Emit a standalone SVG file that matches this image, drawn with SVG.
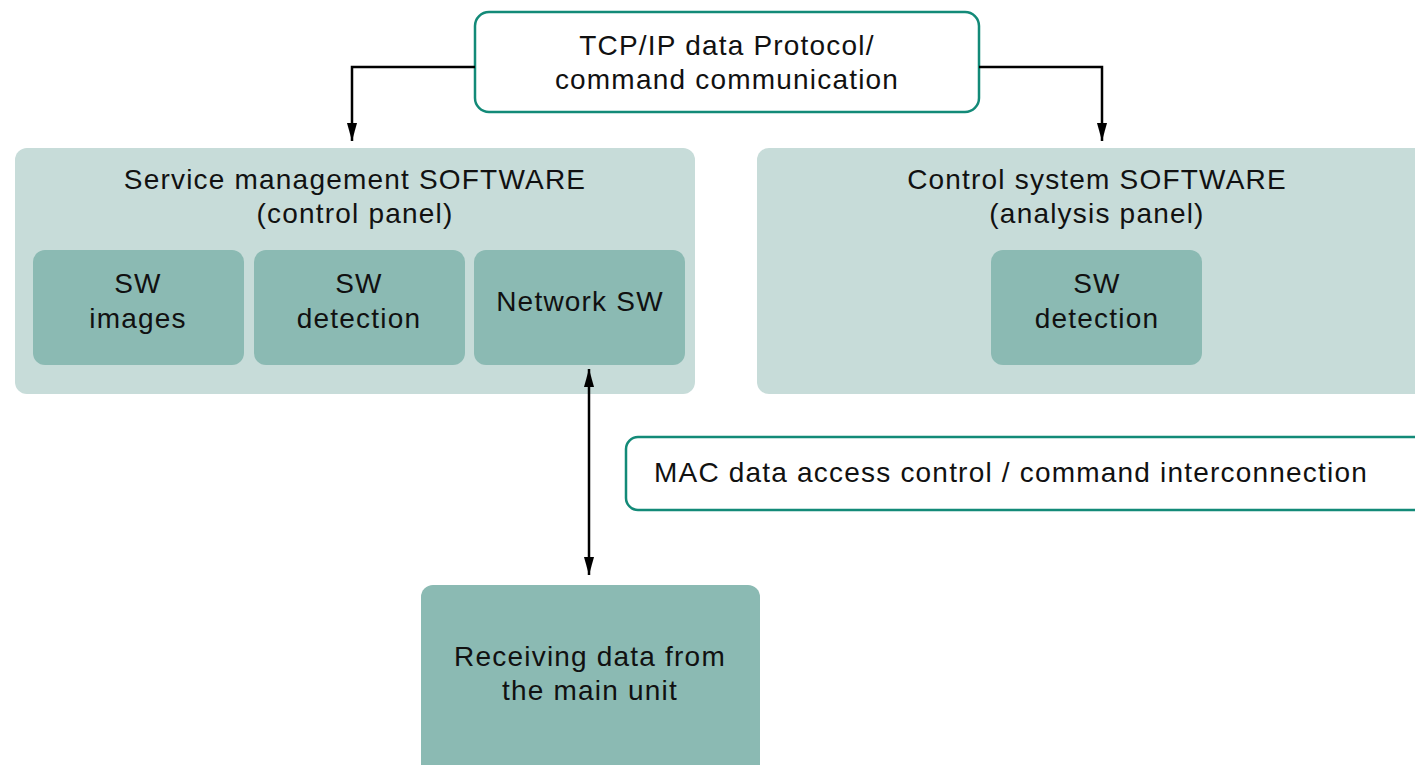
<svg xmlns="http://www.w3.org/2000/svg" width="1415" height="765" viewBox="0 0 1415 765">
<defs>
<marker id="ah" viewBox="0 0 18 10" refX="18" refY="5" markerWidth="18" markerHeight="10" markerUnits="userSpaceOnUse" orient="auto-start-reverse">
<path d="M0,0 L18,5 L0,10 z" fill="#000"/>
</marker>
<style>
text{font-family:"Liberation Sans",Arial,sans-serif;font-size:28px;letter-spacing:1.2px;fill:#111;text-anchor:middle}
.outline{fill:#fff;stroke:#138a78;stroke-width:2.5}
.panel{fill:#c7dcd9}
.sub{fill:#8bbab3}
.conn{fill:none;stroke:#000;stroke-width:2.5}
</style>
</defs>
<rect width="1415" height="765" fill="#fff"/>
<g id="tcp">
<rect class="outline" x="475" y="12" width="504" height="100" rx="14"/>
<text x="727" y="55">TCP/IP data Protocol/</text>
<text x="727" y="89">command communication</text>
</g>
<g id="service">
<rect class="panel" x="15" y="148" width="680" height="246" rx="12"/>
<text x="355" y="189">Service management SOFTWARE</text>
<text x="355" y="223">(control panel)</text>
</g>
<g id="sw-images">
<rect class="sub" x="33" y="250" width="211" height="115" rx="12"/>
<text x="138" y="293">SW</text>
<text x="138" y="328">images</text>
</g>
<g id="sw-detection-1">
<rect class="sub" x="254" y="250" width="211" height="115" rx="12"/>
<text x="359" y="293">SW</text>
<text x="359" y="328">detection</text>
</g>
<g id="network-sw">
<rect class="sub" x="474" y="250" width="211" height="115" rx="12"/>
<text x="580" y="311">Network SW</text>
</g>
<g id="control">
<rect class="panel" x="757" y="148" width="680" height="246" rx="12"/>
<text x="1097" y="189">Control system SOFTWARE</text>
<text x="1097" y="223">(analysis panel)</text>
</g>
<g id="sw-detection-2">
<rect class="sub" x="991" y="250" width="211" height="115" rx="12"/>
<text x="1097" y="293">SW</text>
<text x="1097" y="328">detection</text>
</g>
<g id="mac">
<rect class="outline" x="626" y="437" width="820" height="73" rx="12"/>
<text x="654" y="482" style="text-anchor:start">MAC data access control / command interconnection</text>
</g>
<g id="receiving">
<rect class="sub" x="421" y="585" width="339" height="200" rx="12"/>
<text x="590" y="666">Receiving data from</text>
<text x="590" y="700">the main unit</text>
</g>
<g id="connectors">
<path class="conn" d="M475,67 H352 V141" marker-end="url(#ah)"/>
<path class="conn" d="M979,67 H1102 V141" marker-end="url(#ah)"/>
<path class="conn" d="M589,369 V575" marker-start="url(#ah)" marker-end="url(#ah)"/>
</g>
</svg>
